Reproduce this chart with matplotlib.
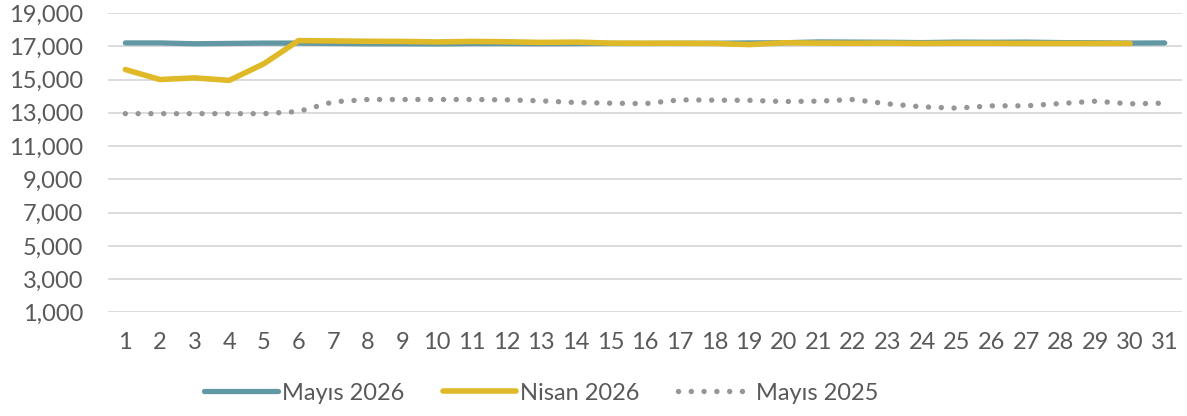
import matplotlib.pyplot as plt
from matplotlib.ticker import FuncFormatter

# daily values
days = list(range(1, 32))
mayis_2026 = [17200, 17200, 17150, 17170, 17190, 17190, 17170, 17150, 17150, 17140,
              17160, 17160, 17150, 17160, 17170, 17170, 17180, 17180, 17200, 17210,
              17260, 17250, 17240, 17220, 17250, 17240, 17250, 17220, 17210, 17190,
              17200]
nisan_2026 = [15600, 15000, 15100, 14950, 15950, 17340, 17320, 17300, 17290, 17260,
              17290, 17270, 17230, 17250, 17190, 17180, 17180, 17170, 17100, 17210,
              17190, 17180, 17190, 17170, 17180, 17180, 17170, 17170, 17170, 17170]
mayis_2025 = [12950, 12950, 12950, 12950, 12950, 13080, 13660, 13800, 13800, 13800,
              13800, 13780, 13720, 13620, 13580, 13550, 13780, 13760, 13750, 13680,
              13700, 13800, 13540, 13360, 13280, 13420, 13420, 13560, 13700, 13540,
              13580]

text_color = '#595959'
plt.rcParams['font.family'] = ['Lato', 'DejaVu Sans']

fig = plt.figure(figsize=(11.87, 4.16), dpi=100)
ax = fig.add_axes([0.091, 0.2488, 0.9048, 0.72])

ax.plot(days, mayis_2026, color='#6198A3', linewidth=3.8, solid_capstyle='round',
        label='Mayıs 2026', zorder=3)
ax.plot(days[:len(nisan_2026)], nisan_2026, color='#DFB927', linewidth=4.0,
        solid_capstyle='round', label='Nisan 2026', zorder=4)
ax.plot(days, mayis_2025, color='#969696', linewidth=3.9,
        linestyle=(0, (0.01, 2.35)), dash_capstyle='round',
        label='Mayıs 2025', zorder=2)

ax.set_xlim(0.5, 31.5)
ax.set_ylim(1000, 19000)
ax.set_yticks(range(1000, 19001, 2000))
ax.set_xticks(days)
ax.yaxis.set_major_formatter(FuncFormatter(lambda v, p: f'{int(v):,}'))
ax.grid(axis='y', color='#D9D9D9', linewidth=1.3)
ax.set_axisbelow(True)
for s in ax.spines.values():
    s.set_visible(False)
ax.tick_params(length=0, labelsize=17, colors=text_color)
ax.tick_params(axis='y', pad=18)
ax.tick_params(axis='x', pad=14)

leg = ax.legend(loc='center', bbox_to_anchor=(0.456, 0.055),
                bbox_transform=fig.transFigure, ncol=3,
                frameon=False, fontsize=17, handlelength=3.1, handletextpad=0.2,
                columnspacing=1.6)
for t in leg.get_texts():
    t.set_color(text_color)

fig.savefig('out.png', dpi=100)
